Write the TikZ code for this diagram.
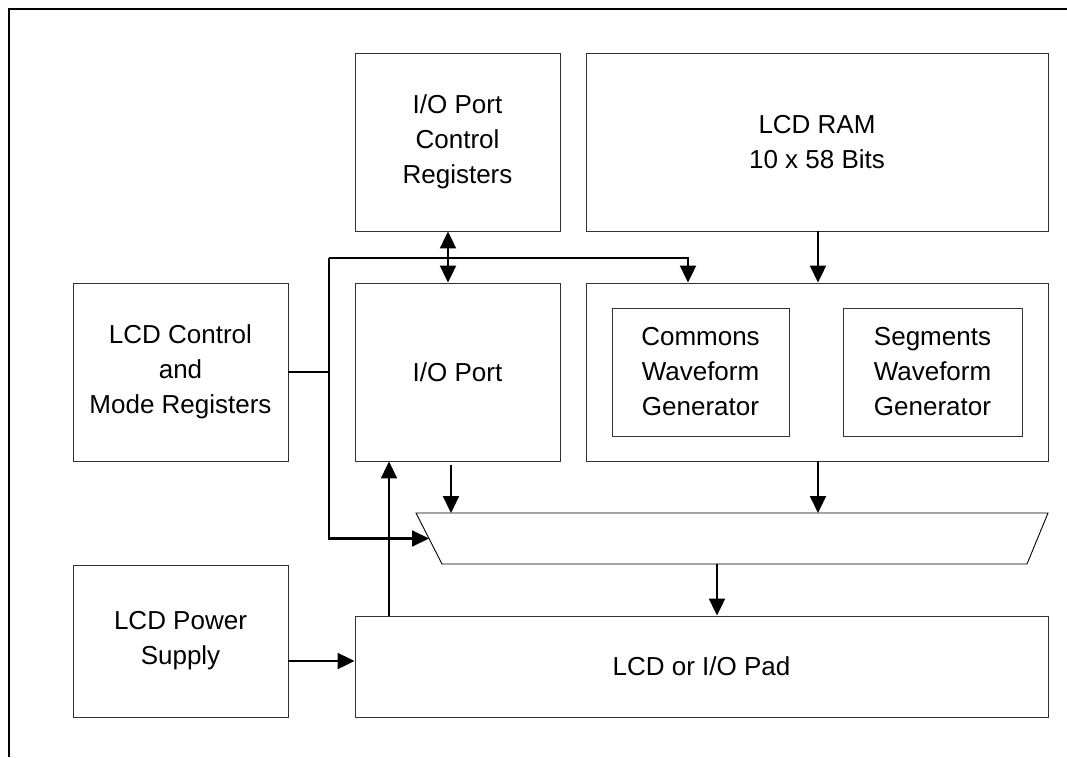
\documentclass[tikz,border=0pt]{standalone}
\usepackage{fontspec}
\setmainfont{Liberation Sans}
\usetikzlibrary{arrows.meta,calc,shadows}
\tikzset{
  blk/.style={draw=black!80, line width=0.9pt, fill=white, inner sep=0pt, align=center,
    font=\fontsize{26pt}{35pt}\selectfont,
    drop shadow={shadow xshift=1.3pt, shadow yshift=-1.3pt, fill=black!45, opacity=1}},
  arr/.style={line width=2.1pt, -{Triangle[length=17pt,width=16pt]}},
  darr/.style={line width=2.1pt, {Triangle[length=17pt,width=16pt]}-{Triangle[length=17pt,width=16pt]}},
  bus/.style={line width=2.1pt},
  muxline/.style={line width=0.9pt, draw=black}
}
\begin{document}
\begin{tikzpicture}[x=1pt,y=-1pt]
\useasboundingbox (0,0) rectangle (1067,757);
% outer frame
\draw[line width=2.6pt] (9,757) -- (9,9) -- (1067,9);

% blocks
\node[blk, minimum width=205pt, minimum height=178pt] (ioctl) at (457.5,142) {I/O Port\\Control\\Registers};
\node[blk, minimum width=462pt, minimum height=178pt] (ram) at (817,142) {LCD RAM\\10 x 58 Bits};
\node[blk, minimum width=215pt, minimum height=178pt] (lcdctl) at (180.5,372) {LCD Control\\and\\Mode Registers};
\node[blk, minimum width=205pt, minimum height=178pt] (ioport) at (457.5,372) {I/O Port};
\node[blk, minimum width=462pt, minimum height=178pt] (wave) at (817,372) {};
\node[blk, minimum width=177pt, minimum height=128pt] (commons) at (700.5,372) {Commons\\Waveform\\Generator};
\node[blk, minimum width=179pt, minimum height=128pt] (segments) at (932.5,372) {Segments\\Waveform\\Generator};
\node[blk, minimum width=215pt, minimum height=152pt] (power) at (180.5,641) {LCD Power\\Supply};
\node[blk, minimum width=693pt, minimum height=101pt] (pad) at (701.5,666.5) {LCD or I/O Pad};

% multiplexer
\coordinate (muxTL) at (416,513);
\coordinate (muxTR) at (1048,513);
\coordinate (muxBR) at (1027,564);
\coordinate (muxBL) at (442,564);
\draw[muxline, fill=white] (muxTL) -- (muxTR) -- (muxBR) -- (muxBL) -- cycle;
\coordinate (muxIn) at ($(muxTL)!0.5!(muxBL)$);

% bus from LCD control
\coordinate (busTop) at (329,258);
\coordinate (waveIn) at (688,258);
\draw[bus] (lcdctl.east) -- (lcdctl.east -| busTop);
\draw[arr] (waveIn -| busTop) -- (waveIn) -- (waveIn |- wave.north);
\draw[arr] (busTop) -- (busTop |- muxIn) -- (muxIn);

% I/O port control <-> I/O port
\coordinate (ioX) at (448,0);
\draw[darr] (ioX |- ioctl.south) -- (ioX |- ioport.north);

% LCD RAM -> waveform block
\coordinate (ramX) at (818,0);
\draw[arr] (ramX |- ram.south) -- (ramX |- wave.north);

% I/O port -> mux
\coordinate (iopOut) at (451,465);
\draw[arr] (iopOut) -- (iopOut |- muxTL);

% waveform -> mux
\draw[arr] (ramX |- wave.south) -- (ramX |- muxTL);

% mux -> pad
\coordinate (muxOut) at (717,564);
\draw[arr] (muxOut) -- (muxOut |- pad.north);

% pad -> I/O port
\coordinate (padUp) at (389,0);
\draw[arr] (padUp |- pad.north) -- (padUp |- ioport.south);

% power -> pad
\coordinate (pwY) at (0,661);
\draw[arr] (power.east |- pwY) -- (pad.west |- pwY);
\end{tikzpicture}
\end{document}
